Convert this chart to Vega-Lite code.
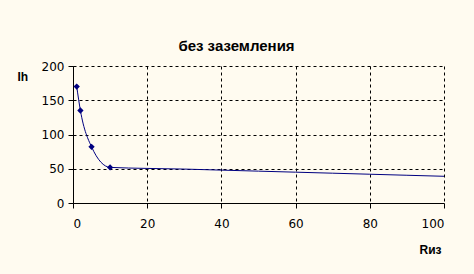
{
  "$schema": "https://vega.github.io/schema/vega-lite/v6.json",
  "width": 371,
  "height": 137,
  "autosize": "none",
  "padding": {"left": 73, "top": 66, "right": 30, "bottom": 71},
  "background": "#FFFBF0",
  "config": {
    "view": {"stroke": null},
    "font": "DejaVu Sans",
    "axis": {
      "labelFont": "DejaVu Sans",
      "labelFontSize": 12,
      "labelColor": "#000000",
      "domainColor": "#000000",
      "domainWidth": 1,
      "tickColor": "#000000",
      "tickSize": 5,
      "gridColor": "#000000",
      "gridDash": [3, 3],
      "gridOpacity": 1,
      "gridWidth": 1,
      "titleFont": "Liberation Sans",
      "titleFontSize": 12,
      "titleFontWeight": "bold",
      "titleColor": "#000000"
    }
  },
  "title": {
    "text": "без заземления",
    "font": "Liberation Sans",
    "fontSize": 15,
    "fontWeight": "bold",
    "color": "#000000",
    "anchor": "middle",
    "frame": "group",
    "dx": -22,
    "dy": 23,
    "baseline": "bottom",
    "offset": 14
  },
  "data": {
    "values": [
      {"r": 1, "ih": 170, "marker": true},
      {"r": 2, "ih": 135, "marker": true},
      {"r": 5, "ih": 82, "marker": true},
      {"r": 10, "ih": 52, "marker": true},
      {"r": 20, "ih": 50.5, "marker": false},
      {"r": 30, "ih": 49.5, "marker": false},
      {"r": 40, "ih": 48, "marker": false},
      {"r": 50, "ih": 46.5, "marker": false},
      {"r": 60, "ih": 45, "marker": false},
      {"r": 70, "ih": 43.5, "marker": false},
      {"r": 80, "ih": 42, "marker": false},
      {"r": 90, "ih": 40.5, "marker": false},
      {"r": 100, "ih": 39, "marker": false}
    ]
  },
  "encoding": {
    "x": {
      "field": "r",
      "type": "quantitative",
      "scale": {"domain": [0, 100], "nice": false, "zero": false},
      "axis": {
        "values": [0, 20, 40, 60, 80, 100],
        "labelPadding": 10,
        "title": "Rиз",
        "titleX": 357,
        "titleY": 50,
        "titleAlign": "center",
        "titleBaseline": "alphabetic"
      }
    },
    "y": {
      "field": "ih",
      "type": "quantitative",
      "scale": {"domain": [0, 200], "nice": false},
      "axis": {
        "values": [0, 50, 100, 150, 200],
        "labelPadding": 4,
        "title": "Ih",
        "titleAngle": 0,
        "titleX": -56,
        "titleY": 14,
        "titleAlign": "left",
        "titleBaseline": "alphabetic"
      }
    }
  },
  "layer": [
    {
      "mark": {"type": "line", "interpolate": "monotone", "color": "#000080", "strokeWidth": 1}
    },
    {
      "transform": [{"filter": "datum.marker"}],
      "mark": {"type": "point", "shape": "diamond", "filled": true, "color": "#000080", "size": 40, "opacity": 1}
    }
  ]
}
